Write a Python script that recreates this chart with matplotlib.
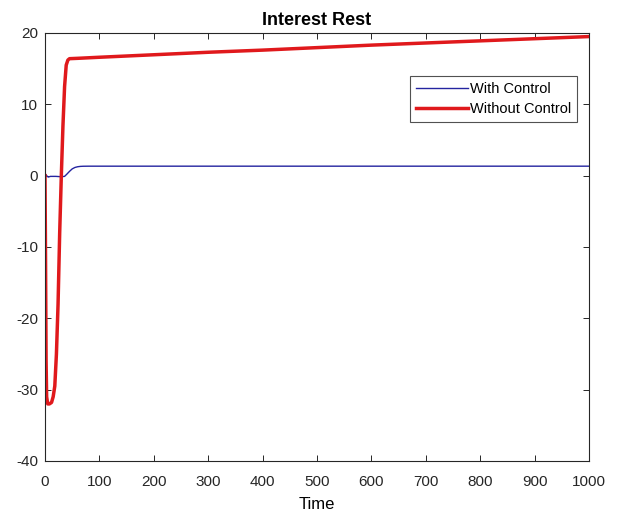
import matplotlib
matplotlib.use("Agg")
import matplotlib.pyplot as plt

# Data
t_without = [0, 1, 2, 3, 5, 8, 12, 15, 18, 21, 24, 27, 30, 33, 36, 39, 42, 45, 60, 100, 200, 300, 400, 500, 600, 700, 800, 900, 1000]
y_without = [0, -12, -26, -31, -32, -32, -31.8, -31, -29.5, -25, -18, -8, 0, 7, 12.5, 15.5, 16.2, 16.4, 16.45, 16.6, 16.95, 17.3, 17.6, 17.95, 18.3, 18.6, 18.9, 19.2, 19.5]

t_with = [0, 3, 6, 10, 20, 30, 36, 40, 45, 50, 55, 60, 65, 70, 80, 100, 200, 400, 600, 800, 1000]
y_with = [0.3, 0.0, -0.2, -0.1, -0.1, -0.15, -0.1, 0.2, 0.6, 0.95, 1.15, 1.25, 1.3, 1.32, 1.33, 1.33, 1.33, 1.33, 1.33, 1.33, 1.33]

xticks = [0, 100, 200, 300, 400, 500, 600, 700, 800, 900, 1000]
yticks = [-40, -30, -20, -10, 0, 10, 20]

plt.rcParams['font.family'] = ['Liberation Sans', 'DejaVu Sans']
plt.rcParams['axes.unicode_minus'] = False
fig = plt.figure(figsize=(6.17, 5.12), dpi=100)
ax = fig.add_axes([45/617, 1 - 461/512, (589-45)/617, (461-33)/512])

ax.plot(t_with, y_with, color='#2424a0', lw=1.0, label='With Control')
ax.plot(t_without, y_without, color='#e0191c', lw=2.5, label='Without Control')

ax.set_xlim(0, 1000)
ax.set_ylim(-40, 20)
ax.set_xticks(xticks)
ax.set_yticks(yticks)
ax.tick_params(direction='in', top=True, right=True, labelsize=11, length=4, width=0.7, colors='#262626')
ax.tick_params(axis='x', pad=10)
ax.tick_params(axis='y', pad=5)
for s in ax.spines.values():
    s.set_linewidth(0.8)
    s.set_color('#262626')
ax.set_title('Interest Rest', fontsize=13, fontweight='bold', pad=6)
ax.set_xlabel('Time', fontsize=12, labelpad=6)

leg = ax.legend(loc='upper right', bbox_to_anchor=(0.978, 0.8995), fontsize=10.5, frameon=True,
                fancybox=False, edgecolor='#262626', handlelength=3.6, handletextpad=0.1,
                borderpad=0.4, labelspacing=0.4, borderaxespad=0)
leg.get_frame().set_linewidth(0.8)

fig.savefig('out.png', dpi=100)
